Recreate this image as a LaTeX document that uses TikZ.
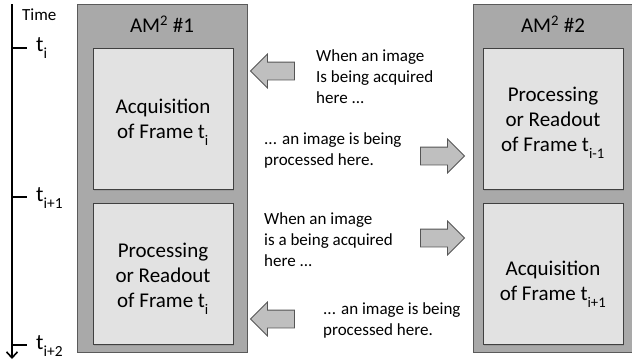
\documentclass[tikz,border=0pt]{standalone}
\usepackage{fontspec}
\setmainfont{Carlito}
\usetikzlibrary{arrows.meta,shapes.arrows,shadows}
\definecolor{outerfill}{HTML}{A9A9A9}
\definecolor{outerline}{HTML}{5A5A5A}
\definecolor{innerfill}{HTML}{E2E2E2}
\definecolor{innerline}{HTML}{404040}
\definecolor{arrfill}{HTML}{BFBFBF}
\definecolor{arrline}{HTML}{555555}
\tikzset{
  outerbox/.style={draw=outerline, fill=outerfill, line width=0.8pt, inner sep=0pt},
  innerbox/.style={draw=innerline, fill=innerfill, line width=0.8pt, inner sep=0pt,
    minimum width=140pt, minimum height=141pt,
    drop shadow={shadow xshift=1pt, shadow yshift=-1.5pt, opacity=0.35}},
  boxtext/.style={align=center, inner sep=0pt, font=\fontsize{21}{25}\selectfont},
  title/.style={font=\fontsize{21}{25}\selectfont, inner sep=0pt},
  blockarrow/.style={single arrow, draw=arrline, fill=arrfill, line width=0.8pt,
    minimum height=44pt, single arrow head extend=8pt,
    inner sep=0pt, single arrow tip angle=90},
  note/.style={align=left, anchor=west, inner sep=0pt, font=\fontsize{17}{21}\selectfont},
  tlabel/.style={anchor=west, inner sep=0pt, font=\fontsize{22}{26}\selectfont},
  tick/.style={line width=1.8pt},
}
\newcommand{\lowsub}[1]{\raisebox{-0.35ex}{\textsubscript{#1}}}
\newcommand{\shaft}{\rule{0pt}{17pt}}
\begin{document}
\begin{tikzpicture}[x=1pt,y=-1pt]
\useasboundingbox (0,0) rectangle (632,364);
% timeline
\coordinate (top) at (12,4);
\coordinate (bot) at (12,359);
\draw[line width=1.8pt, -{Straight Barb[length=6pt,width=11pt,line width=1.6pt]}] (top) -- (bot);
\node[anchor=west, inner sep=0pt, font=\fontsize{17}{20}\selectfont] (time) at (22,15) {Time};
\coordinate (c1) at (12,48);
\coordinate (c2) at (12,197);
\coordinate (c3) at (12,345);
\node[tlabel] (l1) at (36,48) {t\lowsub{i}};
\node[tlabel] (l2) at (36,198) {t\lowsub{i+1}};
\node[tlabel] (l3) at (36,346) {t\lowsub{i+2}};
\draw[tick] (c1) -- ++(15,0);
\draw[tick] (c2) -- ++(15,0);
\draw[tick] (c3) -- ++(15,0);
% AM1
\node[outerbox, minimum width=170pt, minimum height=348pt] (am1) at (162.5,178) {};
\node[title] (t1) at (162,24) {AM\textsuperscript{2} \#1};
\node[innerbox] (a1) at (163,118.5) {};
\node[boxtext] (a1t) at (163,122.5) {Acquisition\\of Frame t\lowsub{i}};
\node[innerbox] (a2) at (163,273.5) {};
\node[boxtext] (a2t) at (163,278.5) {Processing\\or Readout\\of Frame t\lowsub{i}};
% AM2
\node[outerbox, minimum width=159pt, minimum height=348pt] (am2) at (552.5,178) {};
\node[title] (t2) at (553,24) {AM\textsuperscript{2} \#2};
\node[innerbox] (b1) at (553,118.5) {};
\node[boxtext] (b1t) at (553,123) {Processing\\or Readout\\of Frame t\lowsub{i-1}};
\node[innerbox] (b2) at (553,273.5) {};
\node[boxtext] (b2t) at (553,284) {Acquisition\\of Frame t\lowsub{i+1}};
% arrows
\node[blockarrow, shape border rotate=180] (ar1) at (277,71) {\shaft};
\node[blockarrow] (ar2) at (438,156) {\shaft};
\node[blockarrow] (ar3) at (438,238) {\shaft};
\node[blockarrow, shape border rotate=180] (ar4) at (277,319) {\shaft};
% notes
\node[note] (n1) at (316,77) {When an image\\Is being acquired\\here ...};
\node[note] (n2) at (264,150) {... an image is being\\processed here.};
\node[note] (n3) at (264,240) {When an image\\is a being acquired\\here ...};
\node[note] (n4) at (323,320) {... an image is being\\processed here.};
\end{tikzpicture}
\end{document}
